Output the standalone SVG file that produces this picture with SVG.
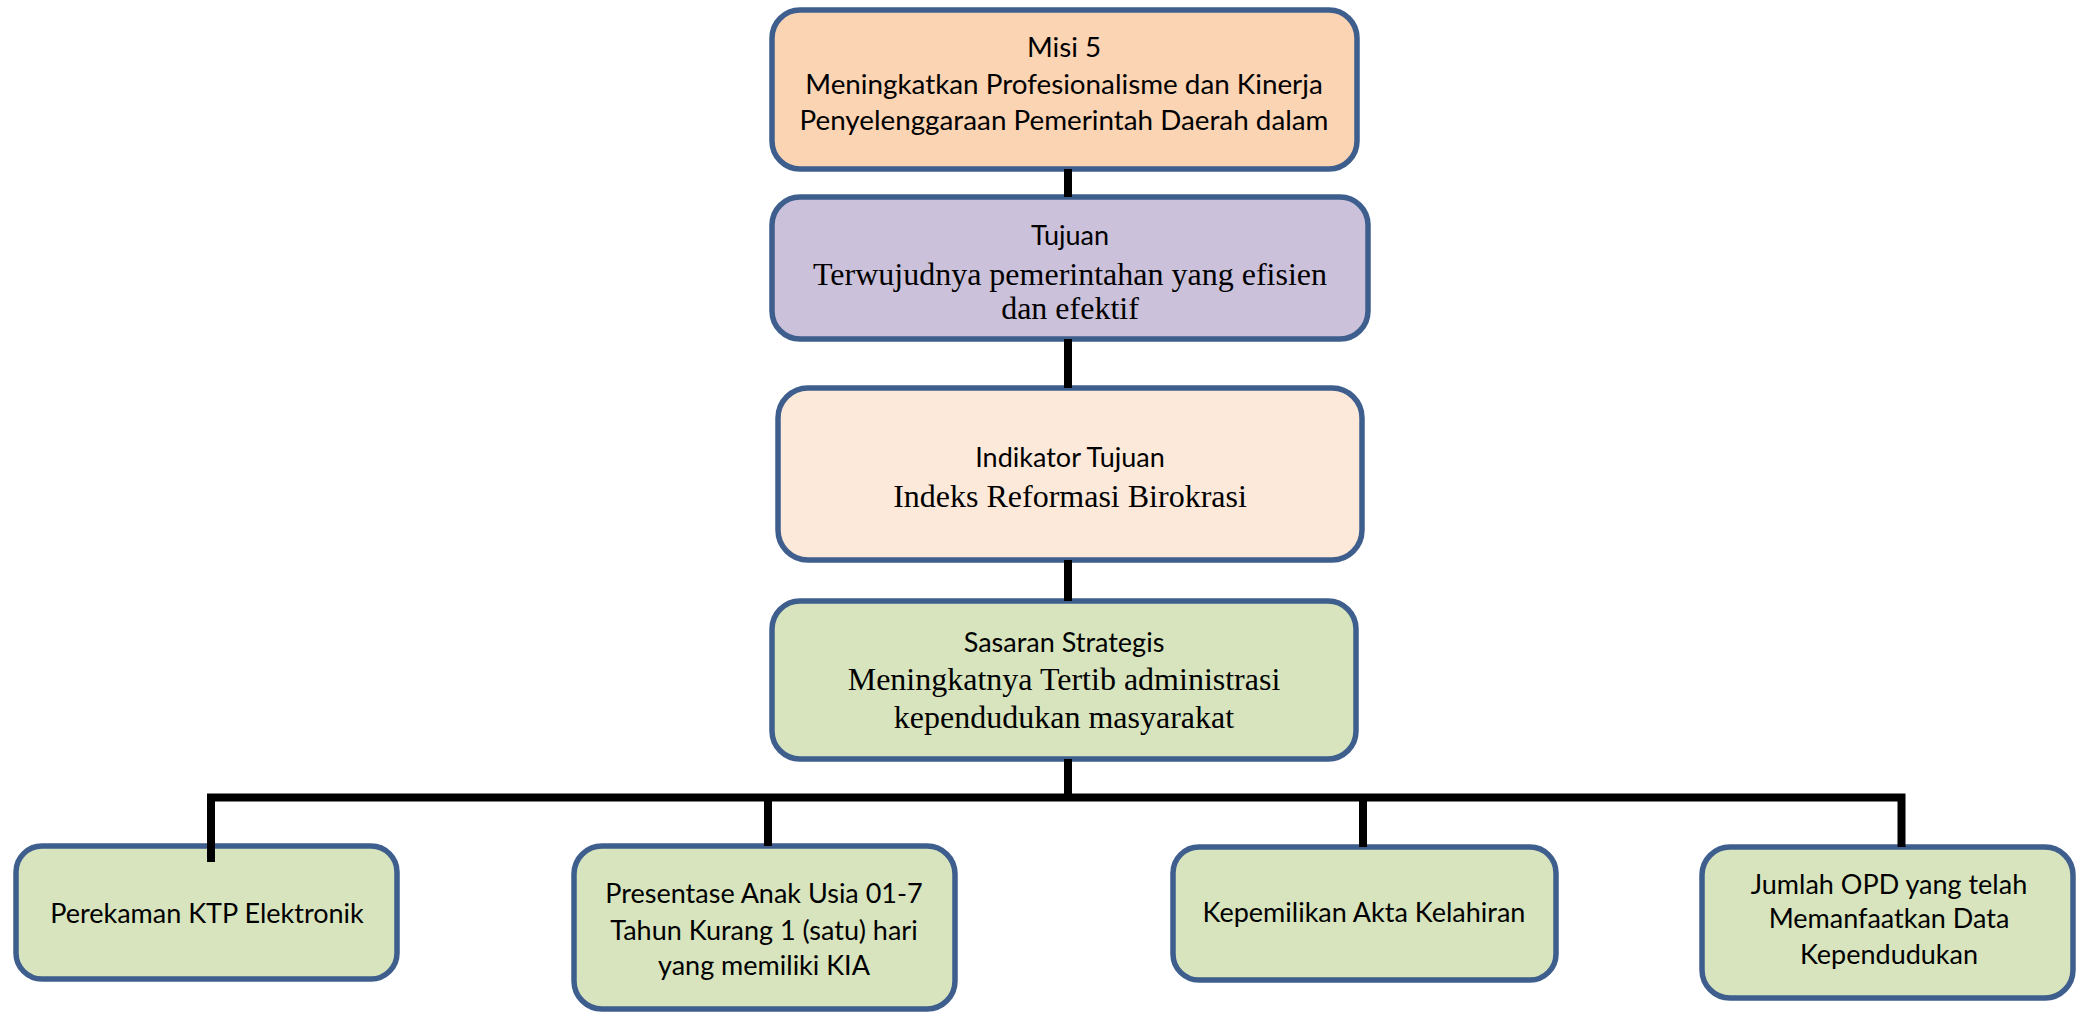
<svg xmlns="http://www.w3.org/2000/svg" width="2076" height="1013" viewBox="0 0 2076 1013">
<style>
.box{stroke:#3e5f8e;stroke-width:5.5}
.peach{fill:#fbd4b4}
.lilac{fill:#ccc1da}
.light{fill:#fde9d9}
.green{fill:#d7e4bd}
.sans{font-family:Lato,"Liberation Sans",sans-serif;font-size:27px;fill:#000;text-anchor:middle}
.big{font-size:27.8px}
.serif{font-family:"Liberation Serif","Times New Roman",serif;font-size:32px;fill:#000;text-anchor:middle}
.conn{fill:none;stroke:#000;stroke-width:8;stroke-linejoin:miter;stroke-linecap:butt}
</style>
<rect width="2076" height="1013" fill="#fff"/>
<g id="misi">
<rect class="box peach" x="772" y="10" width="585" height="159" rx="28"/>
<text class="sans big" x="1064" y="57">Misi 5</text>
<text class="sans big" x="1064" y="94">Meningkatkan Profesionalisme dan Kinerja</text>
<text class="sans big" x="1064" y="130">Penyelenggaraan Pemerintah Daerah dalam</text>
</g>
<g id="tujuan">
<rect class="box lilac" x="772" y="197" width="596" height="142" rx="28"/>
<text class="sans" x="1070" y="245">Tujuan</text>
<text class="serif" x="1070" y="285">Terwujudnya pemerintahan yang efisien</text>
<text class="serif" x="1070" y="319">dan efektif</text>
</g>
<g id="indikator">
<rect class="box light" x="778" y="388" width="584" height="172" rx="30"/>
<text class="sans" x="1070" y="467">Indikator Tujuan</text>
<text class="serif" x="1070" y="507">Indeks Reformasi Birokrasi</text>
</g>
<g id="sasaran">
<rect class="box green" x="772" y="601" width="584" height="158" rx="28"/>
<text class="sans" x="1064" y="652">Sasaran Strategis</text>
<text class="serif" x="1064" y="690">Meningkatnya Tertib administrasi</text>
<text class="serif" x="1064" y="728">kependudukan masyarakat</text>
</g>
<g id="ktp">
<rect class="box green" x="16" y="846" width="381" height="133" rx="26"/>
<text class="sans" x="207" y="923">Perekaman KTP Elektronik</text>
</g>
<g id="kia">
<rect class="box green" x="574" y="846" width="381" height="163" rx="28"/>
<text class="sans" x="764" y="903">Presentase Anak Usia 01-7</text>
<text class="sans" x="764" y="940">Tahun Kurang 1 (satu) hari</text>
<text class="sans" x="764" y="975">yang memiliki KIA</text>
</g>
<g id="akta">
<rect class="box green" x="1173" y="847" width="383" height="133" rx="26"/>
<text class="sans" x="1364" y="922">Kepemilikan Akta Kelahiran</text>
</g>
<g id="opd">
<rect class="box green" x="1702" y="847" width="371" height="151" rx="28"/>
<text class="sans" x="1889" y="894">Jumlah OPD yang telah</text>
<text class="sans" x="1889" y="928">Memanfaatkan Data</text>
<text class="sans" x="1889" y="964">Kependudukan</text>
</g>
<g id="connectors">
<path class="conn" d="M1068 169 V197"/>
<path class="conn" d="M1068 339 V388"/>
<path class="conn" d="M1068 560 V601"/>
<path class="conn" d="M1068 759 V797.5"/>
<path class="conn" d="M211 862 V797.5 H1901.5 V847"/>
<path class="conn" d="M768 797.5 V846"/>
<path class="conn" d="M1363 797.5 V847"/>
</g>
</svg>
